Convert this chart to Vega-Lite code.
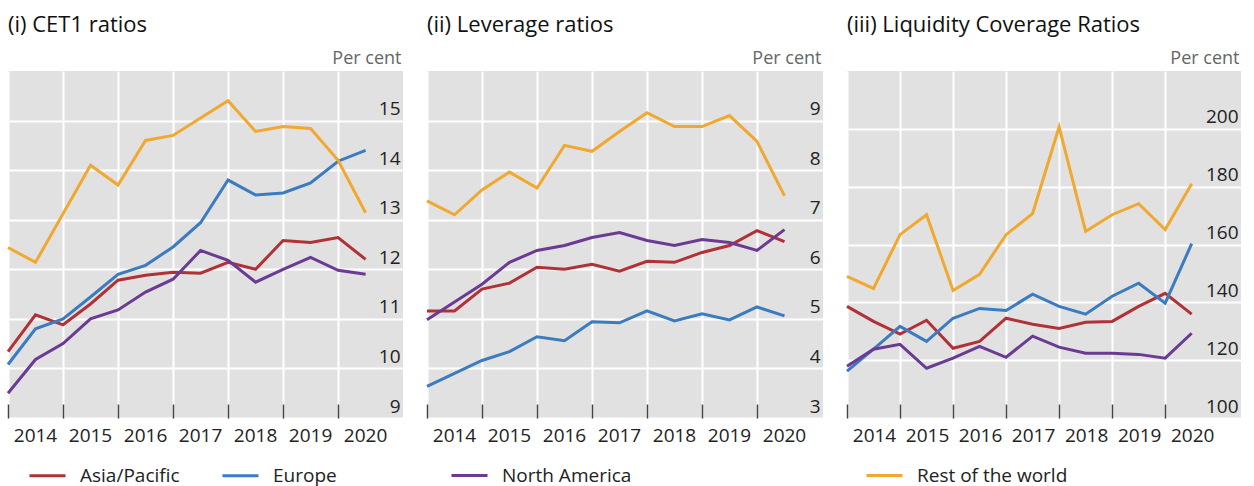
{
  "$schema": "https://vega.github.io/schema/vega-lite/v6.json",
  "padding": {"left": 2, "top": 14, "right": 5, "bottom": 2},
  "spacing": 18,
  "datasets": {
    "cet1": [
      {"t": 2014, "Asia/Pacific": 10.34, "Europe": 10.08, "North America": 9.5, "Rest of the world": 12.44},
      {"t": 2014.5, "Asia/Pacific": 11.08, "Europe": 10.8, "North America": 10.18, "Rest of the world": 12.14},
      {"t": 2015, "Asia/Pacific": 10.88, "Europe": 11.0, "North America": 10.5, "Rest of the world": 13.12},
      {"t": 2015.5, "Asia/Pacific": 11.3, "Europe": 11.44, "North America": 11.0, "Rest of the world": 14.1},
      {"t": 2016, "Asia/Pacific": 11.78, "Europe": 11.9, "North America": 11.18, "Rest of the world": 13.7},
      {"t": 2016.5, "Asia/Pacific": 11.88, "Europe": 12.08, "North America": 11.54, "Rest of the world": 14.6},
      {"t": 2017, "Asia/Pacific": 11.94, "Europe": 12.45, "North America": 11.8, "Rest of the world": 14.7},
      {"t": 2017.5, "Asia/Pacific": 11.92, "Europe": 12.94, "North America": 12.38, "Rest of the world": 15.05},
      {"t": 2018, "Asia/Pacific": 12.14, "Europe": 13.8, "North America": 12.18, "Rest of the world": 15.4},
      {"t": 2018.5, "Asia/Pacific": 12.0, "Europe": 13.5, "North America": 11.74, "Rest of the world": 14.78},
      {"t": 2019, "Asia/Pacific": 12.58, "Europe": 13.54, "North America": 12.0, "Rest of the world": 14.88},
      {"t": 2019.5, "Asia/Pacific": 12.54, "Europe": 13.74, "North America": 12.24, "Rest of the world": 14.84},
      {"t": 2020, "Asia/Pacific": 12.64, "Europe": 14.18, "North America": 11.98, "Rest of the world": 14.2},
      {"t": 2020.5, "Asia/Pacific": 12.2, "Europe": 14.4, "North America": 11.9, "Rest of the world": 13.14}
    ],
    "leverage": [
      {"t": 2014, "Asia/Pacific": 5.16, "Europe": 3.64, "North America": 4.98, "Rest of the world": 7.38},
      {"t": 2014.5, "Asia/Pacific": 5.16, "Europe": 3.9, "North America": 5.34, "Rest of the world": 7.1},
      {"t": 2015, "Asia/Pacific": 5.6, "Europe": 4.16, "North America": 5.7, "Rest of the world": 7.6},
      {"t": 2015.5, "Asia/Pacific": 5.72, "Europe": 4.34, "North America": 6.14, "Rest of the world": 7.96},
      {"t": 2016, "Asia/Pacific": 6.04, "Europe": 4.64, "North America": 6.38, "Rest of the world": 7.64},
      {"t": 2016.5, "Asia/Pacific": 6.0, "Europe": 4.56, "North America": 6.48, "Rest of the world": 8.5},
      {"t": 2017, "Asia/Pacific": 6.1, "Europe": 4.94, "North America": 6.64, "Rest of the world": 8.38},
      {"t": 2017.5, "Asia/Pacific": 5.96, "Europe": 4.92, "North America": 6.74, "Rest of the world": 8.78},
      {"t": 2018, "Asia/Pacific": 6.16, "Europe": 5.16, "North America": 6.58, "Rest of the world": 9.16},
      {"t": 2018.5, "Asia/Pacific": 6.14, "Europe": 4.96, "North America": 6.48, "Rest of the world": 8.88},
      {"t": 2019, "Asia/Pacific": 6.34, "Europe": 5.1, "North America": 6.6, "Rest of the world": 8.88},
      {"t": 2019.5, "Asia/Pacific": 6.48, "Europe": 4.98, "North America": 6.54, "Rest of the world": 9.1},
      {"t": 2020, "Asia/Pacific": 6.78, "Europe": 5.24, "North America": 6.38, "Rest of the world": 8.58},
      {"t": 2020.5, "Asia/Pacific": 6.56, "Europe": 5.06, "North America": 6.8, "Rest of the world": 7.48}
    ],
    "lcr": [
      {"t": 2014, "Asia/Pacific": 138.6, "Europe": 116.2, "North America": 117.9, "Rest of the world": 149},
      {"t": 2014.5, "Asia/Pacific": 133.4, "Europe": 123.8, "North America": 123.8, "Rest of the world": 144.8},
      {"t": 2015, "Asia/Pacific": 129, "Europe": 131.7, "North America": 125.5, "Rest of the world": 163.4},
      {"t": 2015.5, "Asia/Pacific": 133.8, "Europe": 126.5, "North America": 117.2, "Rest of the world": 170.3},
      {"t": 2016, "Asia/Pacific": 124.1, "Europe": 134.5, "North America": 120.7, "Rest of the world": 144.1},
      {"t": 2016.5, "Asia/Pacific": 126.5, "Europe": 137.9, "North America": 124.8, "Rest of the world": 149.7},
      {"t": 2017, "Asia/Pacific": 134.5, "Europe": 137.2, "North America": 121, "Rest of the world": 163.4},
      {"t": 2017.5, "Asia/Pacific": 132.4, "Europe": 142.8, "North America": 128.3, "Rest of the world": 170.7},
      {"t": 2018, "Asia/Pacific": 131, "Europe": 138.6, "North America": 124.5, "Rest of the world": 200.7},
      {"t": 2018.5, "Asia/Pacific": 133.1, "Europe": 135.9, "North America": 122.4, "Rest of the world": 164.5},
      {"t": 2019, "Asia/Pacific": 133.4, "Europe": 142.1, "North America": 122.4, "Rest of the world": 170.3},
      {"t": 2019.5, "Asia/Pacific": 138.6, "Europe": 146.6, "North America": 122, "Rest of the world": 174.1},
      {"t": 2020, "Asia/Pacific": 143.1, "Europe": 139.7, "North America": 120.7, "Rest of the world": 165.2},
      {"t": 2020.5, "Asia/Pacific": 135.9, "Europe": 160.3, "North America": 129.3, "Rest of the world": 181}
    ]
  },
  "hconcat": [
    {
      "width": 395, "height": 347,
      "title": {"text": "(i) CET1 ratios"},
      "data": {"name": "cet1"},
      "transform": [{"fold": ["Asia/Pacific", "Europe", "North America", "Rest of the world"], "as": ["region", "v"]}],
      "mark": {"type": "line", "strokeWidth": 3},
      "encoding": {
        "x": {"field": "t", "type": "quantitative", "scale": {"domain": [2014, 2021.18], "nice": false, "zero": false},
              "axis": {"values": [2014, 2015, 2016, 2017, 2018, 2019, 2020], "format": "d", "title": null}},
        "y": {"field": "v", "type": "quantitative", "scale": {"domain": [9, 16], "nice": false, "zero": false},
              "axis": {"orient": "right", "values": [9, 10, 11, 12, 13, 14, 15], "title": "Per cent"}},
        "color": {"field": "region", "type": "nominal", "legend": {"values": ["Asia/Pacific", "Europe"], "legendX": 20, "legendY": 385}}
      }
    },
    {
      "width": 396, "height": 347,
      "title": {"text": "(ii) Leverage ratios"},
      "data": {"name": "leverage"},
      "transform": [{"fold": ["Asia/Pacific", "Europe", "North America", "Rest of the world"], "as": ["region", "v"]}],
      "mark": {"type": "line", "strokeWidth": 3},
      "encoding": {
        "x": {"field": "t", "type": "quantitative", "scale": {"domain": [2014, 2021.2], "nice": false, "zero": false},
              "axis": {"values": [2014, 2015, 2016, 2017, 2018, 2019, 2020], "format": "d", "title": null}},
        "y": {"field": "v", "type": "quantitative", "scale": {"domain": [3, 10], "nice": false, "zero": false},
              "axis": {"orient": "right", "values": [3, 4, 5, 6, 7, 8, 9], "title": "Per cent"}},
        "color": {"field": "region", "type": "nominal", "legend": {"values": ["North America"], "legendX": 23, "legendY": 385}}
      }
    },
    {
      "width": 394, "height": 347,
      "title": {"text": "(iii) Liquidity Coverage Ratios"},
      "data": {"name": "lcr"},
      "transform": [{"fold": ["Asia/Pacific", "Europe", "North America", "Rest of the world"], "as": ["region", "v"]}],
      "mark": {"type": "line", "strokeWidth": 3},
      "encoding": {
        "x": {"field": "t", "type": "quantitative", "scale": {"domain": [2014, 2021.43], "nice": false, "zero": false},
              "axis": {"values": [2014, 2015, 2016, 2017, 2018, 2019, 2020], "format": "d", "title": null}},
        "y": {"field": "v", "type": "quantitative", "scale": {"domain": [100, 220], "nice": false, "zero": false},
              "axis": {"orient": "right", "values": [100, 120, 140, 160, 180, 200], "title": "Per cent"}},
        "color": {"field": "region", "type": "nominal", "legend": {"values": ["Rest of the world"], "legendX": 18, "legendY": 385}}
      }
    }
  ],
  "resolve": {"scale": {"x": "independent", "y": "independent"}, "legend": {"color": "independent"}},
  "config": {
    "font": "Open Sans",
    "view": {"fill": "#e1e1e1", "stroke": null},
    "range": {"category": ["#b03236", "#3b7bbf", "#6b3b93", "#f0a830"]},
    "title": {"anchor": "start", "fontSize": 22, "fontWeight": "normal", "color": "#111111", "offset": 12, "frame": "group"},
    "axisX": {
      "labelOffset": 27, "labelFlush": false, "labelOverlap": false, "labelBound": false,
      "labelFontSize": 19, "labelColor": "#222222", "labelPadding": 22,
      "domain": false, "tickSize": -14, "tickColor": "#444444", "tickWidth": 1.5,
      "grid": true, "gridColor": "#ffffff", "gridWidth": 2
    },
    "axisY": {
      "titleAngle": 0, "titleAlign": "right", "titleBaseline": "alphabetic",
      "titleX": -2, "titleY": -8, "titleFontSize": 18, "titleFontWeight": "normal", "titleColor": "#666666",
      "domain": false, "ticks": false, "labelAlign": "right", "labelPadding": -3, "labelBaseline": "alphabetic",
      "labelOffset": -6, "labelFontSize": 19, "labelColor": "#222222", "labelFlush": false, "labelOverlap": false, "labelBound": false,
      "grid": true, "gridColor": "#ffffff", "gridWidth": 2
    },
    "legend": {
      "orient": "none", "direction": "horizontal", "title": null, "symbolType": "stroke", "symbolSize": 1296,
      "symbolStrokeWidth": 3, "labelFontSize": 19, "labelColor": "#222222", "labelOffset": 13, "columnPadding": 36, "padding": 0
    }
  }
}
